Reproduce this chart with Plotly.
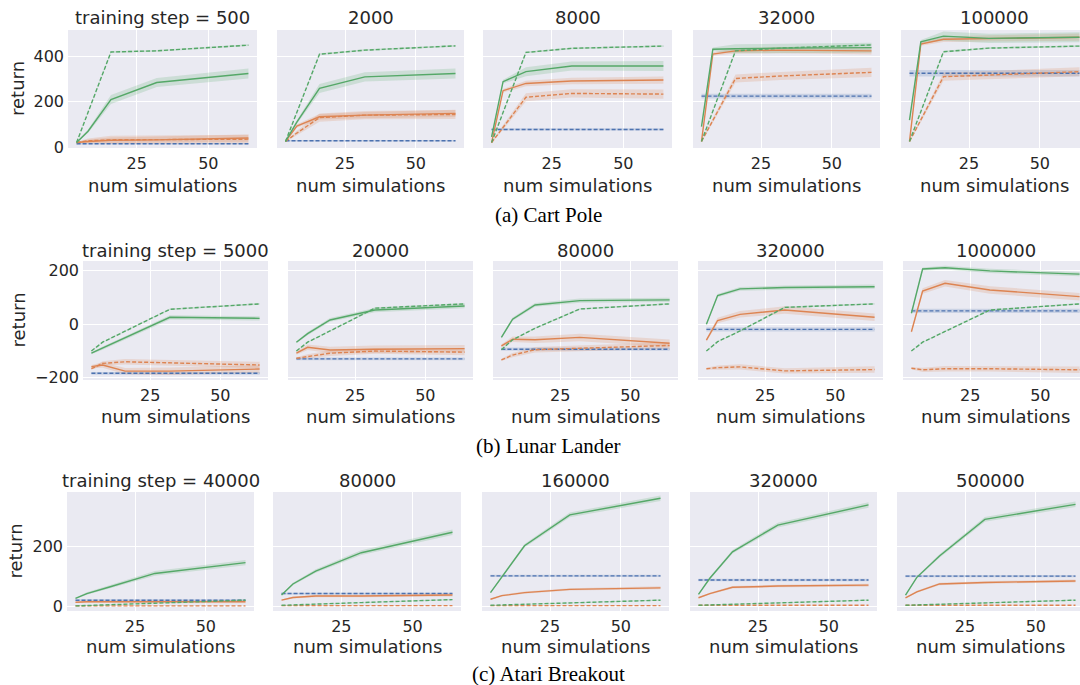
import plotly.graph_objects as go

# ---------------- data ----------------
X_SIMS = [4, 8, 16, 32, 64]
X_TICKS = [25, 50]

ENV_CAPTIONS = ["(a) Cart Pole", "(b) Lunar Lander", "(c) Atari Breakout"]

# Cart Pole
CP_STEPS = ["500", "2000", "8000", "32000", "100000"]
CP_YTICKS = [0, 200, 400]
CP_BLUE = [15, 28, 78, 225, 326]
CP_ORANGE_SOLID = [[20, 25, 30, 32, 40], [25, 93, 134, 141, 149], [20, 249, 281, 292, 296],
                   [25, 411, 425, 428, 425], [25, 455, 476, 480, 485]]
CP_ORANGE_DASHED = [[20, 28, 32, 33, 35], [25, 62, 130, 141, 144], [20, 87, 220, 237, 234],
                    [25, 118, 303, 314, 330], [25, 120, 311, 318, 333]]
CP_GREEN_SOLID = [[20, 70, 210, 285, 325], [25, 110, 259, 310, 325], [45, 289, 333, 358, 358],
                  [90, 432, 434, 437, 439], [119, 465, 490, 480, 485]]
CP_GREEN_DASHED = [[20, 153, 420, 425, 450], [25, 153, 410, 428, 447], [20, 153, 418, 436, 446],
                   [25, 158, 425, 437, 451], [25, 157, 421, 437, 446]]
CP_BLUE_BAND = [3, 3, 5, 10, 14]
CP_OS_BAND = [2, 8, 12, 14, 16]
CP_OD_BAND = [2, 10, 18, 18, 20]
CP_GS_BAND = [2, 8, 20, 20, 22]
CP_GD_BAND = [1, 3, 4, 4, 4]

# Lunar Lander
LL_STEPS = ["5000", "20000", "80000", "320000", "1000000"]
LL_YTICKS = [-200, 0, 200]
LL_BLUE = [-183, -129, -93, -19, 50]
LL_ORANGE_SOLID = [[-158, -152, -175, -175, -167], [-108, -86, -96, -93, -91], [-81, -56, -58, -49, -71],
                   [-59, 14, 37, 53, 26], [-28, 124, 153, 128, 103]]
LL_ORANGE_DASHED = [[-166, -146, -140, -144, -152], [-127, -120, -108, -100, -104], [-133, -115, -95, -89, -79],
                    [-166, -162, -159, -174, -169], [-164, -170, -166, -166, -170]]
LL_GREEN_SOLID = [[-108, -89, -52, 26, 22], [-67, -35, 16, 53, 68], [-49, 19, 72, 88, 91],
                  [0, 107, 132, 137, 140], [41, 206, 211, 199, 187]]
LL_GREEN_DASHED = [[-100, -67, -26, 56, 76], [-100, -67, -25, 60, 76], [-95, -58, -15, 57, 76],
                   [-100, -65, -25, 63, 76], [-100, -67, -27, 53, 76]]
LL_BLUE_BAND = [5, 5, 6, 8, 8]
LL_OS_BAND = [6, 10, 12, 14, 14]
LL_OD_BAND = [4, 8, 10, 10, 12]
LL_GS_BAND = [4, 6, 7, 8, 8]
LL_GD_BAND = [2, 2, 3, 3, 3]

# Atari Breakout
AB_STEPS = ["40000", "80000", "160000", "320000", "500000"]
AB_YTICKS = [0, 200]
AB_BLUE = [22, 44, 103, 89, 102]
AB_ORANGE_SOLID = [[15, 17, 17, 17, 17], [22, 31, 36, 36, 39], [25, 37, 47, 58, 63],
                   [30, 44, 65, 69, 72], [30, 50, 76, 81, 86]]
AB_ORANGE_DASHED = [[3, 3, 3, 3, 3], [4, 4, 4, 4, 4], [4, 4, 4, 4, 4],
                    [5, 5, 5, 5, 5], [5, 5, 5, 5, 5]]
AB_GREEN_SOLID = [[28, 44, 66, 111, 147], [39, 76, 119, 180, 248], [47, 99, 203, 306, 361],
                  [41, 95, 183, 272, 339], [39, 98, 169, 291, 341]]
AB_GREEN_DASHED = [[3, 4, 6, 12, 22], [5, 6, 9, 14, 24], [5, 6, 8, 13, 22],
                   [5, 6, 8, 13, 22], [5, 6, 8, 13, 22]]
AB_BLUE_BAND = [3, 3, 4, 4, 4]
AB_OS_BAND = [2, 3, 4, 4, 5]
AB_OD_BAND = [1, 1, 1, 1, 1]
AB_GS_BAND = [2, 4, 6, 8, 9]
AB_GD_BAND = [1, 1, 1, 1, 2]

# ---------------- layout geometry (pixels) ----------------
W, H = 1080, 685
ROW_TOP = [30, 261, 492]
ROW_BOT = [148, 380, 611]
ROW_COLS = [
    [(68, 257), (277, 464), (483, 672), (693, 880), (901, 1088)],
    [(83, 268), (288, 473), (493, 678), (698, 883), (903, 1088)],
    [(67, 254), (273, 461), (482, 669), (690, 877), (897, 1084)],
]
ROW_YRANGE = [(-4, 517), (-208, 236), (-14, 382)]
X_RANGE = (1, 67)
TITLE_Y = [18, 250, 480]
XLABEL_Y = [185, 416, 646]
YLABEL_X = [17, 18, 15]
CAPTION_Y = [215, 446, 674]
CAPTION_X = 548

BLUE = "#4C72B0"
ORANGE = "#DD8452"
GREEN = "#55A868"
BG = "#EAEAF2"
TXT = "#262626"
FONT = "DejaVu Sans"


def rgba(hexc, a):
    h = hexc.lstrip("#")
    return "rgba(%d,%d,%d,%.2f)" % (int(h[0:2], 16), int(h[2:4], 16), int(h[4:6], 16), a)


envs = [
    dict(steps=CP_STEPS, yticks=CP_YTICKS, blue=CP_BLUE, os=CP_ORANGE_SOLID, od=CP_ORANGE_DASHED,
         gs=CP_GREEN_SOLID, gd=CP_GREEN_DASHED, bb=CP_BLUE_BAND, osb=CP_OS_BAND, odb=CP_OD_BAND,
         gsb=CP_GS_BAND, gdb=CP_GD_BAND, first="training step = 500"),
    dict(steps=LL_STEPS, yticks=LL_YTICKS, blue=LL_BLUE, os=LL_ORANGE_SOLID, od=LL_ORANGE_DASHED,
         gs=LL_GREEN_SOLID, gd=LL_GREEN_DASHED, bb=LL_BLUE_BAND, osb=LL_OS_BAND, odb=LL_OD_BAND,
         gsb=LL_GS_BAND, gdb=LL_GD_BAND, first="training step = 5000"),
    dict(steps=AB_STEPS, yticks=AB_YTICKS, blue=AB_BLUE, os=AB_ORANGE_SOLID, od=AB_ORANGE_DASHED,
         gs=AB_GREEN_SOLID, gd=AB_GREEN_DASHED, bb=AB_BLUE_BAND, osb=AB_OS_BAND, odb=AB_OD_BAND,
         gsb=AB_GS_BAND, gdb=AB_GD_BAND, first="training step = 40000"),
]

fig = go.Figure()
annotations = []
layout_axes = {}

k = 0
for r, env in enumerate(envs):
    for c in range(5):
        k += 1
        xs = "" if k == 1 else str(k)
        xref, yref = "x" + xs, "y" + xs
        left, right = ROW_COLS[r][c]
        xr = list(X_RANGE)
        if right > W:
            xr[1] = X_RANGE[0] + (X_RANGE[1] - X_RANGE[0]) * (W - left) / (right - left)
            right = W
        layout_axes["xaxis" + xs] = dict(
            domain=[left / W, right / W], anchor=yref, range=xr,
            tickvals=X_TICKS, showgrid=True, gridcolor="white", gridwidth=1,
            zeroline=False, showline=False, ticks="", automargin=False,
            tickfont=dict(family=FONT, size=16, color=TXT), ticklabelstandoff=4,
        )
        layout_axes["yaxis" + xs] = dict(
            domain=[1 - ROW_BOT[r] / H, 1 - ROW_TOP[r] / H], anchor=xref,
            range=list(ROW_YRANGE[r]), tickvals=env["yticks"], showgrid=True,
            gridcolor="white", gridwidth=1, zeroline=False, showline=False, ticks="",
            showticklabels=(c == 0), automargin=False,
            tickfont=dict(family=FONT, size=16, color=TXT), ticklabelstandoff=3,
        )

        series = [
            ([env["blue"][c]] * len(X_SIMS), [env["bb"][c]] * len(X_SIMS), BLUE, "dash"),
            (env["od"][c], env["odb"], ORANGE, "dash"),
            (env["os"][c], env["osb"], ORANGE, "solid"),
            (env["gd"][c], env["gdb"], GREEN, "dash"),
            (env["gs"][c], env["gsb"], GREEN, "solid"),
        ]
        for ys, band, col, dash in series:
            up = [y + b for y, b in zip(ys, band)]
            lo = [y - b for y, b in zip(ys, band)]
            fig.add_trace(go.Scatter(
                x=X_SIMS + X_SIMS[::-1], y=up + lo[::-1], fill="toself",
                fillcolor=rgba(col, 0.2), line=dict(width=0), mode="lines",
                hoverinfo="skip", showlegend=False, xaxis=xref, yaxis=yref))
        for ys, band, col, dash in series:
            fig.add_trace(go.Scatter(
                x=X_SIMS, y=ys, mode="lines",
                line=dict(color=col, width=1.4, dash=("4px,2px" if dash == "dash" else "solid")),
                showlegend=False, xaxis=xref, yaxis=yref))

        cx = (ROW_COLS[r][c][0] + ROW_COLS[r][c][1]) / 2
        title = env["first"] if c == 0 else env["steps"][c]
        annotations.append(dict(text=title, x=cx / W, y=1 - TITLE_Y[r] / H, xref="paper", yref="paper",
                                showarrow=False, xanchor="center", yanchor="middle",
                                font=dict(family=FONT, size=18, color=TXT)))
        annotations.append(dict(text="num simulations", x=cx / W, y=1 - XLABEL_Y[r] / H, xref="paper",
                                yref="paper", showarrow=False, xanchor="center", yanchor="middle",
                                font=dict(family=FONT, size=18, color=TXT)))
    annotations.append(dict(text="return", x=YLABEL_X[r] / W, y=1 - (ROW_TOP[r] + ROW_BOT[r]) / 2 / H,
                            xref="paper", yref="paper", showarrow=False, textangle=-90,
                            xanchor="center", yanchor="middle",
                            font=dict(family=FONT, size=18, color=TXT)))
    annotations.append(dict(text=ENV_CAPTIONS[r], x=CAPTION_X / W, y=1 - CAPTION_Y[r] / H,
                            xref="paper", yref="paper", showarrow=False, xanchor="center",
                            yanchor="middle", font=dict(family="Liberation Serif", size=21, color="black")))

fig.update_layout(
    width=W, height=H, margin=dict(l=0, r=0, t=0, b=0),
    paper_bgcolor="white", plot_bgcolor=BG, showlegend=False,
    annotations=annotations, **layout_axes,
)

fig.write_html("out.html", config={"displayModeBar": False},
               post_script="document.body.style.margin='0';document.body.style.overflow='hidden';")
